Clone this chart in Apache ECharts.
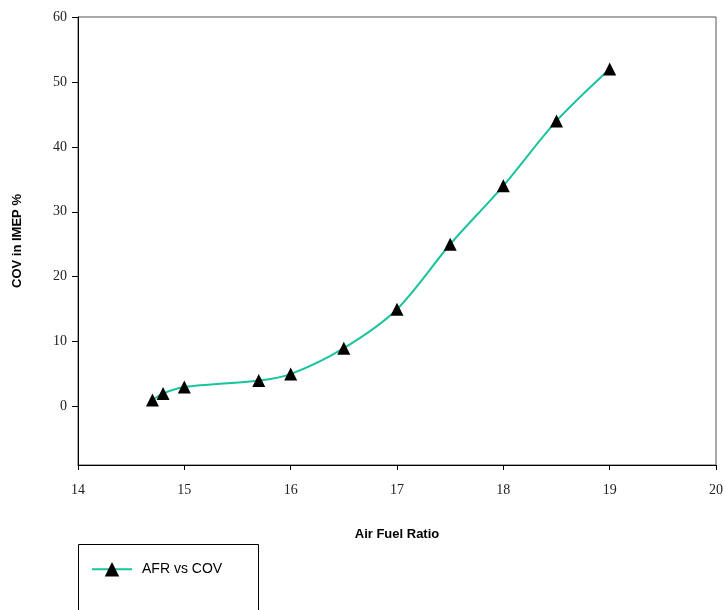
<!DOCTYPE html>
<html><head><meta charset="utf-8">
<script src="https://cdn.jsdelivr.net/npm/echarts@6/dist/echarts.min.js"></script>
<style>html,body{margin:0;padding:0;background:#fff}#c{width:726px;height:610px}</style>
</head><body><div id="c"></div>
<script>
const afr = [14.7, 14.8, 15, 15.7, 16, 16.5, 17, 17.5, 18, 18.5, 19];
const cov = [1, 2, 3, 4, 5, 9, 15, 25, 34, 44, 52];
const yTicks = [0, 10, 20, 30, 40, 50, 60];
const xTicks = [14, 15, 16, 17, 18, 19, 20];
const seriesName = 'AFR vs COV';

const chart = echarts.init(document.getElementById('c'));
chart.setOption({
  animation: false,
  backgroundColor: '#fff',
  grid: {left: 78, top: 17, right: 10, bottom: 145, show: true, borderColor: '#555', borderWidth: 1},
  xAxis: {
    type: 'value', min: 14, max: 20, interval: 1,
    name: 'Air Fuel Ratio', nameLocation: 'middle', nameGap: 63,
    nameTextStyle: {fontFamily: 'Liberation Sans', fontWeight: 'bold', fontSize: 13, color: '#000'},
    axisLine: {onZero: false, lineStyle: {color: '#000', width: 1}},
    axisTick: {show: true, length: 5, lineStyle: {color: '#000'}, customValues: xTicks},
    axisLabel: {fontFamily: 'Liberation Serif', fontSize: 14, color: '#222', margin: 18, customValues: xTicks},
    splitLine: {show: false}
  },
  yAxis: {
    type: 'value', min: -9, max: 60,
    name: 'COV in IMEP %', nameLocation: 'middle', nameGap: 54,
    nameTextStyle: {fontFamily: 'Liberation Sans', fontWeight: 'bold', fontSize: 13, color: '#000'},
    axisLine: {show: true, onZero: false, lineStyle: {color: '#000', width: 1}},
    axisTick: {show: true, length: 6, lineStyle: {color: '#000'}, customValues: yTicks},
    axisLabel: {fontFamily: 'Liberation Serif', fontSize: 14, color: '#222', margin: 11, customValues: yTicks},
    splitLine: {show: false}
  },
  legend: {
    left: 86, top: 557, itemWidth: 40, itemHeight: 18, itemGap: 10,
    textStyle: {fontFamily: 'Liberation Sans', fontSize: 14, color: '#000', padding: [0, 0, 0, 5]},
    data: [seriesName]
  },
  graphic: [{type: 'rect', shape: {x: 78.5, y: 544.5, width: 180, height: 80}, style: {fill: 'none', stroke: '#000', lineWidth: 1}, z: -1}],
  series: [{
    name: seriesName, type: 'line', smooth: 0.3,
    data: afr.map((x, i) => [x, cov[i]]),
    symbol: 'triangle', symbolSize: 13,
    itemStyle: {color: '#000'},
    lineStyle: {color: '#19c39b', width: 2},
    z: 3
  }]
});
</script></body></html>
